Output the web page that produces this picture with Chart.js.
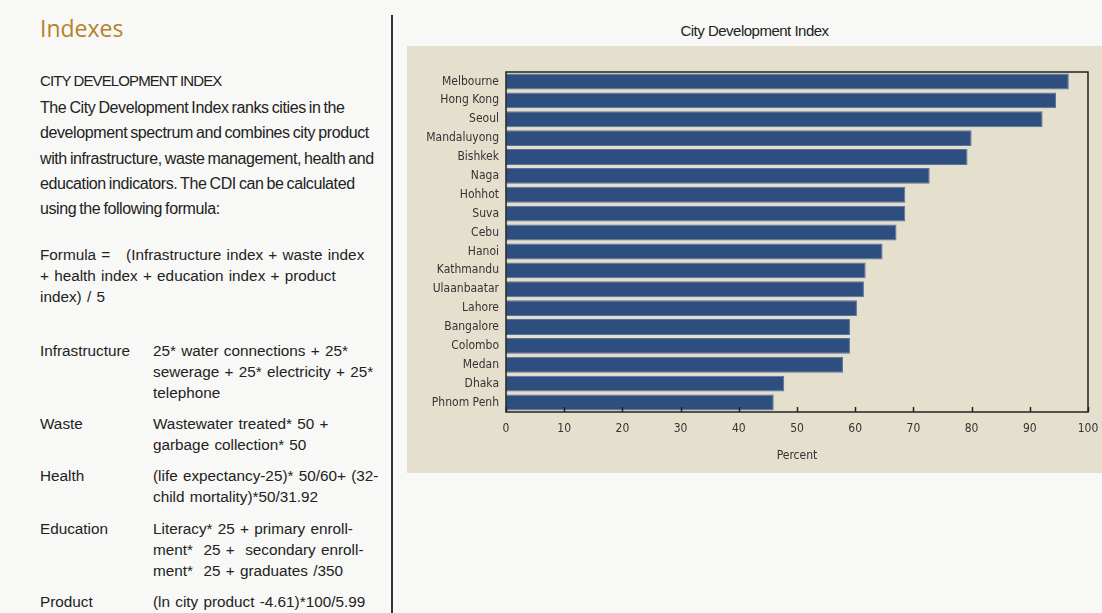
<!DOCTYPE html>
<html>
<head>
<meta charset="utf-8">
<script src="https://cdn.jsdelivr.net/npm/chart.js@4"></script>
<style>
  body { margin: 0; background: #f8f8f6; width: 1102px; height: 613px; overflow: hidden; position: relative; font-family: "Liberation Sans", Arial, sans-serif; color: #222; }
  .abs { position: absolute; white-space: nowrap; }
  #heading { left: 40px; top: 12px; font-family: "Open Sans", sans-serif; font-size: 23px; color: #b5822a; }
  #sub { left: 40px; top: 72px; font-size: 15px; letter-spacing: -0.9px; }
  #para { left: 40px; top: 95px; font-size: 16px; line-height: 25.3px; letter-spacing: -0.4px; word-spacing: -1px; }
  .f { font-size: 15.3px; line-height: 21px; word-spacing: 1px; }
  #formula { left: 40px; top: 244px; }
  .lab { left: 40px; }
  .val { left: 153px; }
  #divider { left: 391px; top: 15px; width: 2px; height: 598px; background: #333; }
  #title { left: 407px; width: 695px; top: 22px; text-align: center; font-size: 15px; letter-spacing: -0.5px; }
  #panel { left: 407px; top: 46px; width: 695px; height: 427px; background: #e5e0cd; }
</style>
</head>
<body>
<div class="abs" id="heading">Indexes</div>
<div class="abs" id="sub">CITY DEVELOPMENT INDEX</div>
<div class="abs" id="para">The City Development Index ranks cities in the<br>development spectrum and combines city product<br>with infrastructure, waste management, health and<br>education indicators. The CDI can be calculated<br>using the following formula:</div>
<div class="abs f" id="formula">Formula = &nbsp;&nbsp;(Infrastructure index + waste index<br>+ health index + education index + product<br>index) / 5</div>

<div class="abs f lab" style="top:340px">Infrastructure</div>
<div class="abs f val" style="top:340px">25* water connections + 25*<br>sewerage + 25* electricity + 25*<br>telephone</div>
<div class="abs f lab" style="top:413px">Waste</div>
<div class="abs f val" style="top:413px">Wastewater treated* 50 +<br>garbage collection* 50</div>
<div class="abs f lab" style="top:465px">Health</div>
<div class="abs f val" style="top:465px">(life expectancy-25)* 50/60+ (32-<br>child mortality)*50/31.92</div>
<div class="abs f lab" style="top:518px">Education</div>
<div class="abs f val" style="top:518px">Literacy* 25 + primary enroll-<br>ment* &nbsp;25 + &nbsp;secondary enroll-<br>ment* &nbsp;25 + graduates /350</div>
<div class="abs f lab" style="top:591px">Product</div>
<div class="abs f val" style="top:591px">(ln city product -4.61)*100/5.99</div>

<div class="abs" id="divider"></div>
<div class="abs" id="title">City Development Index</div>
<div class="abs" id="panel"><canvas id="cdi" width="695" height="427"></canvas></div>

<script>
// Data
const cities = ['Melbourne', 'Hong Kong', 'Seoul', 'Mandaluyong', 'Bishkek', 'Naga', 'Hohhot', 'Suva', 'Cebu',
    'Hanoi', 'Kathmandu', 'Ulaanbaatar', 'Lahore', 'Bangalore', 'Colombo', 'Medan', 'Dhaka', 'Phnom Penh'];
const cdiValues = [96.7, 94.5, 92.2, 80.0, 79.3, 72.8, 68.6, 68.6, 67.1,
    64.7, 61.8, 61.5, 60.3, 59.1, 59.1, 57.9, 47.8, 46.0];
const xTicks = [0, 10, 20, 30, 40, 50, 60, 70, 80, 90, 100];

// Frame around plot area plus inward tick marks on the x axis
const frame = {
    id: 'frame',
    afterDraw(chart) {
        const { ctx, chartArea: a, scales } = chart;
        ctx.save();
        ctx.strokeStyle = '#222';
        ctx.lineWidth = 1.5;
        ctx.strokeRect(a.left, a.top, a.right - a.left, a.bottom - a.top);
        ctx.beginPath();
        xTicks.forEach(v => {
            const x = Math.round(scales.x.getPixelForValue(v)) + 0.5;
            ctx.moveTo(x, a.bottom);
            ctx.lineTo(x, a.bottom - 5);
        });
        ctx.stroke();
        ctx.restore();
    }
};

const labelFont = { family: '"DejaVu Sans Condensed", "Liberation Sans", sans-serif', size: 12 };

new Chart(document.getElementById('cdi'), {
    type: 'bar',
    data: {
        labels: cities,
        datasets: [{
            data: cdiValues,
            backgroundColor: '#2f4e80',
            borderColor: '#5b7199',
            borderWidth: 1,
            borderSkipped: false,
            barPercentage: 0.84,
            categoryPercentage: 1
        }]
    },
    options: {
        indexAxis: 'y',
        responsive: false,
        animation: false,
        layout: { padding: { top: 26, right: 14, left: 0, bottom: 0 } },
        plugins: { legend: { display: false }, tooltip: { enabled: false } },
        scales: {
            x: {
                min: 0,
                max: 100,
                afterBuildTicks: s => { s.ticks = xTicks.map(v => ({ value: v })); },
                afterFit: s => { s.height = 61; s.paddingLeft = 0; s.paddingRight = 0; },
                grid: { display: false, drawTicks: false },
                border: { display: false },
                ticks: { color: '#333', font: labelFont, padding: 10, maxRotation: 0 },
                title: { display: true, text: 'Percent', color: '#333', font: labelFont, padding: { top: 6, bottom: 10 } }
            },
            y: {
                afterFit: s => { s.width = 99; },
                grid: { display: false, drawTicks: false },
                border: { display: false },
                ticks: { color: '#333', font: labelFont, padding: 7, autoSkip: false }
            }
        }
    },
    plugins: [frame]
});
</script>
</body>
</html>
